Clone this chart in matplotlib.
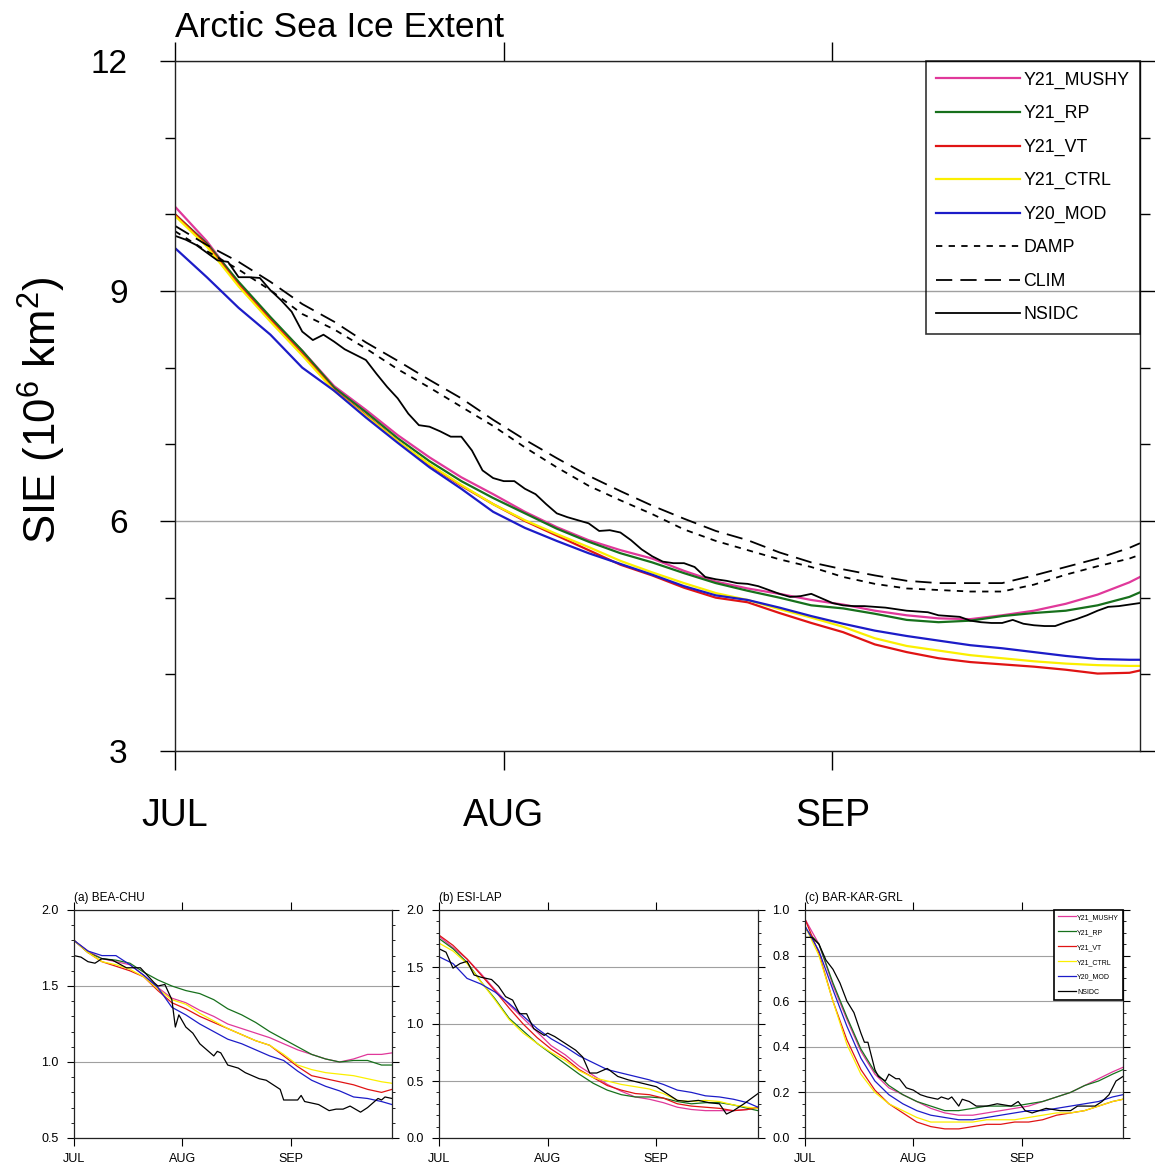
import matplotlib
matplotlib.use("Agg")
import matplotlib.pyplot as plt
from matplotlib.ticker import FormatStrFormatter

plt.rcParams['font.family'] = ['Liberation Sans', 'DejaVu Sans']
plt.rcParams['mathtext.default'] = 'regular'

# Figure size in pixels
W, H = 1155, 1166

# ---------------- main panel data (day 0 = 1 JUL) ----------------
DAYS = [0, 3, 6, 9, 12, 15, 18, 21, 24, 27, 30, 33, 36, 39, 42, 45,
        48, 51, 54, 57, 60, 63, 66, 69, 72, 75, 78, 81, 84, 87, 90, 91]

y21_mushy = [10.10, 9.65, 9.10, 8.64, 8.22, 7.76, 7.45, 7.12, 6.83, 6.57, 6.35, 6.12,
             5.92, 5.75, 5.62, 5.51, 5.35, 5.21, 5.12, 5.05, 4.97, 4.91, 4.83, 4.77,
             4.73, 4.72, 4.77, 4.83, 4.92, 5.04, 5.20, 5.27]
y21_rp = [10.00, 9.62, 9.12, 8.66, 8.22, 7.74, 7.42, 7.08, 6.78, 6.52, 6.30, 6.10,
          5.90, 5.73, 5.58, 5.46, 5.32, 5.19, 5.09, 5.00, 4.90, 4.86, 4.79, 4.71,
          4.68, 4.70, 4.76, 4.80, 4.83, 4.90, 5.01, 5.07]
y21_vt = [10.00, 9.60, 9.08, 8.62, 8.18, 7.71, 7.38, 7.04, 6.73, 6.46, 6.22, 6.00,
          5.81, 5.62, 5.43, 5.29, 5.13, 5.00, 4.94, 4.80, 4.67, 4.55, 4.39, 4.29,
          4.21, 4.16, 4.13, 4.10, 4.06, 4.01, 4.02, 4.05]
y21_ctrl = [9.98, 9.58, 9.06, 8.60, 8.16, 7.70, 7.37, 7.04, 6.74, 6.47, 6.22, 6.01,
            5.83, 5.66, 5.48, 5.33, 5.19, 5.06, 4.97, 4.85, 4.74, 4.62, 4.47, 4.37,
            4.31, 4.25, 4.21, 4.17, 4.14, 4.12, 4.11, 4.11]
y20_mod = [9.56, 9.18, 8.78, 8.43, 8.00, 7.70, 7.35, 7.02, 6.70, 6.42, 6.12, 5.91,
           5.74, 5.58, 5.44, 5.30, 5.15, 5.03, 4.97, 4.87, 4.76, 4.66, 4.57, 4.50,
           4.44, 4.38, 4.34, 4.29, 4.24, 4.20, 4.19, 4.19]
damp = [9.78, 9.52, 9.28, 9.01, 8.70, 8.50, 8.25, 7.98, 7.74, 7.49, 7.24, 6.96,
        6.70, 6.46, 6.27, 6.09, 5.89, 5.74, 5.62, 5.50, 5.40, 5.27, 5.18, 5.12,
        5.10, 5.08, 5.08, 5.17, 5.30, 5.41, 5.51, 5.56]
clim = [9.85, 9.60, 9.38, 9.12, 8.83, 8.60, 8.33, 8.09, 7.84, 7.60, 7.32, 7.06,
        6.82, 6.59, 6.39, 6.20, 6.03, 5.87, 5.75, 5.59, 5.46, 5.37, 5.29, 5.22,
        5.19, 5.19, 5.19, 5.29, 5.40, 5.51, 5.65, 5.71]

NSIDC_DAYS = list(range(0, 92))
nsidc = [9.72, 9.67, 9.60, 9.50, 9.40, 9.38, 9.18, 9.18, 9.17, 9.01, 8.88, 8.73,
         8.47, 8.36, 8.43, 8.34, 8.24, 8.17, 8.10, 7.92, 7.75, 7.60, 7.40, 7.25,
         7.23, 7.17, 7.10, 7.10, 6.92, 6.66, 6.56, 6.52, 6.52, 6.42, 6.35, 6.22,
         6.10, 6.05, 6.01, 5.97, 5.87, 5.88, 5.85, 5.75, 5.63, 5.54, 5.47, 5.45,
         5.45, 5.40, 5.27, 5.24, 5.22, 5.19, 5.18, 5.15, 5.10, 5.05, 5.01, 5.02,
         5.05, 4.99, 4.93, 4.90, 4.89, 4.89, 4.88, 4.87, 4.85, 4.83, 4.82, 4.81,
         4.77, 4.76, 4.75, 4.70, 4.68, 4.67, 4.67, 4.71, 4.66, 4.64, 4.63, 4.63,
         4.68, 4.72, 4.77, 4.83, 4.88, 4.89, 4.91, 4.93]

# ---------------- regional panels ----------------
PDAYS = [0, 4, 8, 12, 16, 20, 24, 28, 32, 36, 40, 44, 48, 52, 56, 60,
         64, 68, 72, 76, 80, 84, 88, 91]

# (a) BEA-CHU
a_mushy = [1.80, 1.73, 1.68, 1.66, 1.64, 1.57, 1.49, 1.42, 1.39, 1.34, 1.30, 1.25,
           1.22, 1.19, 1.16, 1.12, 1.08, 1.05, 1.02, 1.00, 1.02, 1.05, 1.05, 1.06]
a_rp = [1.80, 1.72, 1.68, 1.67, 1.65, 1.59, 1.54, 1.50, 1.47, 1.45, 1.41, 1.35,
        1.31, 1.26, 1.20, 1.15, 1.10, 1.05, 1.02, 1.00, 1.01, 1.01, 0.98, 0.98]
a_vt = [1.80, 1.72, 1.66, 1.63, 1.60, 1.56, 1.47, 1.39, 1.35, 1.30, 1.26, 1.22,
        1.18, 1.14, 1.11, 1.04, 0.97, 0.91, 0.89, 0.87, 0.85, 0.82, 0.80, 0.82]
a_ctrl = [1.80, 1.72, 1.66, 1.64, 1.61, 1.56, 1.48, 1.41, 1.38, 1.32, 1.27, 1.22,
          1.18, 1.14, 1.11, 1.05, 0.98, 0.95, 0.93, 0.92, 0.91, 0.89, 0.87, 0.86]
a_mod = [1.80, 1.73, 1.70, 1.70, 1.64, 1.57, 1.49, 1.36, 1.31, 1.25, 1.20, 1.15,
         1.12, 1.08, 1.04, 1.01, 0.94, 0.88, 0.84, 0.81, 0.77, 0.76, 0.74, 0.72]
a_obs_days = [0, 2, 4, 6, 8, 11, 15, 19, 23, 24, 26, 28, 29, 30, 32, 34, 36, 38,
              40, 41, 42, 44, 47, 49, 53, 55, 57, 59, 60, 62, 64, 65, 66, 70, 73,
              75, 77, 79, 82, 84, 87, 88, 89, 91]
a_obs = [1.70, 1.69, 1.66, 1.65, 1.68, 1.67, 1.62, 1.62, 1.52, 1.50, 1.51, 1.41,
         1.23, 1.31, 1.23, 1.19, 1.12, 1.08, 1.04, 1.07, 1.06, 0.98, 0.96, 0.93,
         0.89, 0.88, 0.85, 0.82, 0.75, 0.75, 0.75, 0.78, 0.74, 0.72, 0.68, 0.69,
         0.69, 0.71, 0.67, 0.70, 0.76, 0.75, 0.77, 0.76]

# (b) ESI-LAP
b_mushy = [1.77, 1.67, 1.57, 1.44, 1.30, 1.17, 1.05, 0.93, 0.81, 0.73, 0.63, 0.55,
           0.47, 0.41, 0.36, 0.34, 0.31, 0.27, 0.25, 0.24, 0.24, 0.24, 0.25, 0.27]
b_rp = [1.75, 1.66, 1.54, 1.37, 1.22, 1.05, 0.94, 0.83, 0.74, 0.65, 0.56, 0.48,
        0.42, 0.38, 0.36, 0.36, 0.35, 0.32, 0.30, 0.31, 0.31, 0.29, 0.26, 0.24]
b_vt = [1.78, 1.69, 1.57, 1.43, 1.29, 1.14, 1.00, 0.88, 0.78, 0.70, 0.60, 0.53,
        0.46, 0.42, 0.39, 0.38, 0.35, 0.30, 0.28, 0.27, 0.26, 0.24, 0.25, 0.27]
b_ctrl = [1.71, 1.64, 1.53, 1.37, 1.21, 1.04, 0.92, 0.83, 0.75, 0.68, 0.59, 0.53,
          0.50, 0.47, 0.45, 0.43, 0.39, 0.33, 0.32, 0.33, 0.32, 0.29, 0.27, 0.26]
b_mod = [1.59, 1.53, 1.40, 1.35, 1.28, 1.18, 1.07, 0.96, 0.87, 0.80, 0.72, 0.66,
         0.60, 0.57, 0.54, 0.51, 0.47, 0.42, 0.40, 0.37, 0.36, 0.34, 0.31, 0.27]
b_obs_days = [0, 2, 4, 6, 8, 10, 12, 15, 17, 19, 21, 23, 25, 27, 30, 31, 33, 36,
              39, 41, 43, 45, 48, 51, 54, 58, 62, 65, 68, 71, 74, 77, 80, 82, 84,
              87, 91]
b_obs = [1.66, 1.63, 1.49, 1.53, 1.55, 1.43, 1.41, 1.39, 1.33, 1.24, 1.21, 1.09,
         1.09, 0.96, 0.90, 0.92, 0.89, 0.83, 0.77, 0.71, 0.57, 0.57, 0.61, 0.54,
         0.51, 0.48, 0.45, 0.39, 0.33, 0.32, 0.33, 0.31, 0.30, 0.21, 0.24, 0.30,
         0.39]

# (c) BAR-KAR-GRL
c_mushy = [0.96, 0.85, 0.67, 0.52, 0.38, 0.28, 0.22, 0.19, 0.16, 0.13, 0.11, 0.10,
           0.10, 0.11, 0.12, 0.13, 0.14, 0.16, 0.18, 0.20, 0.23, 0.26, 0.29, 0.31]
c_rp = [0.92, 0.85, 0.68, 0.53, 0.39, 0.29, 0.23, 0.19, 0.16, 0.14, 0.12, 0.12,
        0.13, 0.14, 0.14, 0.14, 0.15, 0.16, 0.18, 0.20, 0.23, 0.25, 0.28, 0.30]
c_vt = [0.96, 0.81, 0.60, 0.43, 0.30, 0.21, 0.15, 0.11, 0.07, 0.05, 0.04, 0.04,
        0.05, 0.06, 0.06, 0.07, 0.07, 0.08, 0.10, 0.11, 0.12, 0.14, 0.16, 0.17]
c_ctrl = [0.93, 0.80, 0.60, 0.41, 0.28, 0.20, 0.15, 0.12, 0.09, 0.07, 0.07, 0.07,
          0.07, 0.08, 0.08, 0.08, 0.09, 0.10, 0.11, 0.11, 0.12, 0.14, 0.16, 0.17]
c_mod = [0.93, 0.82, 0.65, 0.49, 0.35, 0.25, 0.19, 0.15, 0.12, 0.10, 0.09, 0.08,
         0.08, 0.09, 0.10, 0.11, 0.12, 0.12, 0.13, 0.14, 0.15, 0.16, 0.18, 0.19]
c_obs_days = [0, 2, 4, 6, 8, 10, 12, 14, 16, 17, 18, 20, 21, 23, 24, 26, 27, 29,
              31, 33, 35, 38, 39, 41, 42, 44, 45, 47, 49, 52, 55, 59, 61, 63, 65,
              69, 73, 76, 78, 81, 83, 85, 87, 89, 91]
c_obs = [0.88, 0.88, 0.85, 0.78, 0.74, 0.68, 0.60, 0.55, 0.46, 0.42, 0.42, 0.30,
         0.27, 0.25, 0.28, 0.26, 0.26, 0.22, 0.21, 0.19, 0.18, 0.17, 0.18, 0.17,
         0.18, 0.14, 0.17, 0.16, 0.14, 0.14, 0.15, 0.14, 0.16, 0.12, 0.11, 0.13,
         0.12, 0.12, 0.14, 0.14, 0.14, 0.16, 0.19, 0.25, 0.27]

MONTH_TICKS = [0, 31, 62]
MONTH_LABELS = ['JUL', 'AUG', 'SEP']

# colours / styles
C_MUSHY = '#e0389a'
C_RP = '#17701c'
C_VT = '#e01414'
C_CTRL = '#fbef00'
C_MOD = '#1c1cc8'
GRID = '#a0a0a0'
DAMP_DASH = (0, (3.5, 3.5))
CLIM_DASH = (0, (9, 4.5))


def fig_rect(left, top, right, bottom):
    """Pixel box -> figure fraction rectangle"""
    return [left / W, 1 - bottom / H, (right - left) / W, (bottom - top) / H]


fig = plt.figure(figsize=(W / 100, H / 100), dpi=100)

# ---------------- main axes ----------------
ax = fig.add_axes(fig_rect(175, 61, 1140, 751))
lw = 1.6
ax.plot(DAYS, y21_mushy, color=C_MUSHY, lw=lw, label='Y21_MUSHY')
ax.plot(DAYS, y21_rp, color=C_RP, lw=lw, label='Y21_RP')
ax.plot(DAYS, y21_vt, color=C_VT, lw=lw, label='Y21_VT')
ax.plot(DAYS, y21_ctrl, color=C_CTRL, lw=lw, label='Y21_CTRL')
ax.plot(DAYS, y20_mod, color=C_MOD, lw=lw, label='Y20_MOD')
ax.plot(DAYS, damp, color='black', lw=1.3, linestyle=DAMP_DASH, label='DAMP')
ax.plot(DAYS, clim, color='black', lw=1.3, linestyle=CLIM_DASH, label='CLIM')
ax.plot(NSIDC_DAYS, nsidc, color='black', lw=1.3, label='NSIDC')

ax.set_xlim(0, 91)
ax.set_ylim(3, 12)
ax.set_xticks(MONTH_TICKS)
ax.set_xticklabels(MONTH_LABELS)
ax.set_yticks([3, 6, 9, 12])
ax.set_yticks([4, 5, 7, 8, 10, 11], minor=True)
ax.tick_params(axis='x', which='major', direction='out', length=14, width=1,
               top=True, bottom=True, labelsize=27, pad=20)
ax.tick_params(axis='x', which='minor', top=False, bottom=False)
ax.tick_params(axis='y', which='major', direction='out', length=11, width=1,
               left=True, right=True, labelsize=24, pad=23)
ax.tick_params(axis='y', which='minor', direction='out', length=7, width=1,
               left=True, right=True)
ax.grid(axis='y', which='major', color=GRID, lw=1)
ax.set_axisbelow(True)
for sp in ax.spines.values():
    sp.set_color('#222222')
    sp.set_linewidth(1)

leg = ax.legend(loc='upper right', bbox_to_anchor=(1, 1), borderaxespad=0,
                fontsize=12.8, handlelength=4.7, handletextpad=0.2,
                labelspacing=0.92, borderpad=0.6, fancybox=False,
                edgecolor='black', facecolor='none')
leg.get_frame().set_linewidth(1.2)

fig.text(175 / W, 1 - 37 / H, 'Arctic Sea Ice Extent', fontsize=25.5,
         ha='left', va='baseline')
fig.text(42 / W, 1 - 410 / H, r'SIE (10$^{6}$ km$^{2}$)', fontsize=31.5,
         rotation=90, ha='center', va='center')

# ---------------- regional panels ----------------
panels = [
    (fig_rect(74, 910, 392, 1138), '(a) BEA-CHU', (0.5, 2.0), [0.5, 1.0, 1.5, 2.0], 0.1,
     [a_mushy, a_rp, a_vt, a_ctrl, a_mod], a_obs_days, a_obs),
    (fig_rect(439, 910, 758, 1138), '(b) ESI-LAP', (0.0, 2.0), [0.0, 0.5, 1.0, 1.5, 2.0], 0.1,
     [b_mushy, b_rp, b_vt, b_ctrl, b_mod], b_obs_days, b_obs),
    (fig_rect(805, 910, 1123, 1138), '(c) BAR-KAR-GRL', (0.0, 1.0), [0.0, 0.2, 0.4, 0.6, 0.8, 1.0], 0.05,
     [c_mushy, c_rp, c_vt, c_ctrl, c_mod], c_obs_days, c_obs),
]
names = ['Y21_MUSHY', 'Y21_RP', 'Y21_VT', 'Y21_CTRL', 'Y20_MOD']
colors = [C_MUSHY, C_RP, C_VT, C_CTRL, C_MOD]

for i, (rect, title, ylim, yticks, minor_step, series, odays, obs) in enumerate(panels):
    pax = fig.add_axes(rect)
    for vals, col, nm in zip(series, colors, names):
        pax.plot(PDAYS, vals, color=col, lw=0.9, label=nm)
    pax.plot(odays, obs, color='black', lw=0.9, label='NSIDC')
    pax.set_xlim(0, 91)
    pax.set_ylim(*ylim)
    pax.set_xticks(MONTH_TICKS)
    pax.set_xticklabels(MONTH_LABELS)
    pax.set_yticks(yticks)
    n_minor = int(round((ylim[1] - ylim[0]) / minor_step))
    pax.set_yticks([ylim[0] + k * minor_step for k in range(n_minor + 1)], minor=True)
    pax.yaxis.set_major_formatter(FormatStrFormatter('%.1f'))
    pax.tick_params(axis='x', which='major', direction='out', length=5.5, width=0.8,
                    top=True, bottom=True, labelsize=9, pad=5)
    pax.tick_params(axis='y', which='major', direction='out', length=5, width=0.8,
                    left=True, right=True, labelsize=9, pad=6)
    pax.tick_params(axis='y', which='minor', direction='out', length=2.5, width=0.6,
                    left=True, right=True)
    pax.grid(axis='y', which='major', color=GRID, lw=0.8)
    pax.set_axisbelow(True)
    for sp in pax.spines.values():
        sp.set_color('#222222')
        sp.set_linewidth(0.9)
    fig.text(rect[0], 1 - 901 / H, title, fontsize=8.5, ha='left', va='baseline')
    if i == 2:
        pleg = pax.legend(loc='upper right', bbox_to_anchor=(1, 1), borderaxespad=0,
                          fontsize=5, handlelength=2.6, handletextpad=0.2,
                          labelspacing=1.15, borderpad=0.55, fancybox=False,
                          edgecolor='black', facecolor='white', framealpha=1)
        pleg.get_frame().set_linewidth(1.2)

fig.savefig('out.png', dpi=100)
